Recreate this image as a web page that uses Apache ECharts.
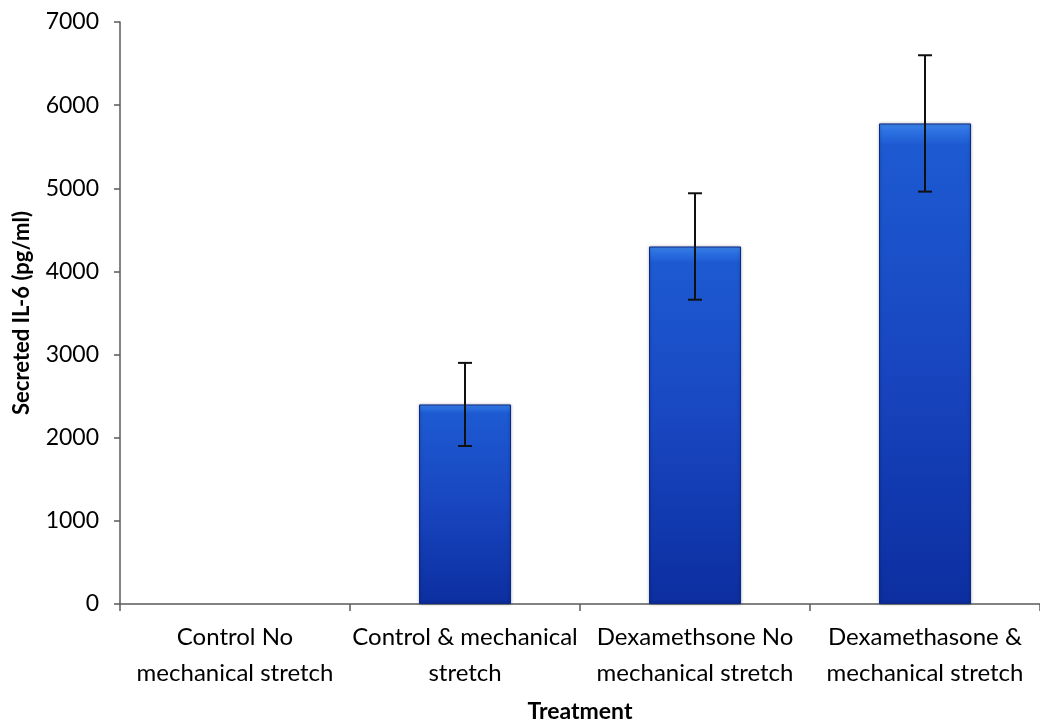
<!DOCTYPE html>
<html>
<head>
<meta charset="utf-8">
<script src="https://cdn.jsdelivr.net/npm/echarts@6/dist/echarts.min.js"></script>
<style>
  html, body { margin: 0; padding: 0; background: #ffffff; }
  #chart { width: 1040px; height: 722px; }
</style>
</head>
<body>
<div id="chart"></div>
<script>
// Treatment groups shown along the x axis
const categories = [
  'Control No\nmechanical stretch',
  'Control & mechanical\nstretch',
  'Dexamethsone No\nmechanical stretch',
  'Dexamethasone &\nmechanical stretch'
];
// Mean secreted IL-6 (pg/ml) per group
const meanValues = [0, 2400, 4300, 5780];
// Error (± half-range) for each group
const errorValues = [0, 500, 640, 820];
// Y axis ticks
const yMin = 0, yMax = 7000, yStep = 1000;

const FONT = 'Lato, "Open Sans", sans-serif';

const chart = echarts.init(document.getElementById('chart'), null, { renderer: 'canvas' });

const barFill = new echarts.graphic.LinearGradient(0, 0, 0, 1, [
  { offset: 0, color: '#3f86ea' },
  { offset: 0.015, color: '#2d72e2' },
  { offset: 0.045, color: '#1d5ad2' },
  { offset: 0.5, color: '#1846c0' },
  { offset: 1, color: '#0c2ea0' }
]);

// Zero-height groups get no outline so nothing is drawn for them
const barData = meanValues.map(v => ({
  value: v,
  itemStyle: { borderWidth: v === 0 ? 0 : 1, shadowBlur: v === 0 ? 0 : 3 }
}));

const errorData = meanValues.map((v, i) => [i, v - errorValues[i], v + errorValues[i], errorValues[i]]);

chart.setOption({
  animation: false,
  backgroundColor: '#ffffff',
  grid: { left: 120, right: 0, top: 22, bottom: 118, containLabel: false, outerBoundsMode: 'none' },
  xAxis: {
    type: 'category',
    data: categories,
    boundaryGap: true,
    name: 'Treatment',
    nameLocation: 'middle',
    nameGap: 96,
    nameTextStyle: { fontFamily: FONT, fontSize: 23, fontWeight: 'bold', color: '#000' },
    axisLine: { show: true, lineStyle: { color: '#5a5a5a', width: 1.5 } },
    axisTick: { show: true, length: 7, alignWithLabel: false, lineStyle: { color: '#5a5a5a', width: 1.5 } },
    axisLabel: {
      interval: 0, margin: 15, fontFamily: FONT, fontSize: 24, lineHeight: 36, color: '#000'
    },
    splitLine: { show: false }
  },
  yAxis: {
    type: 'value',
    min: yMin, max: yMax, interval: yStep,
    name: 'Secreted IL-6 (pg/ml)',
    nameLocation: 'middle',
    nameRotate: 90,
    nameGap: 87,
    nameTextStyle: { fontFamily: FONT, fontSize: 22, fontWeight: 'bold', color: '#000' },
    axisLine: { show: true, lineStyle: { color: '#5a5a5a', width: 1.5 } },
    axisTick: { show: true, length: 6, lineStyle: { color: '#5a5a5a', width: 1.5 } },
    axisLabel: {
      margin: 21, fontFamily: FONT, fontSize: 23, color: '#000',
      formatter: v => String(v)
    },
    splitLine: { show: false }
  },
  series: [
    {
      type: 'bar',
      data: barData,
      barWidth: '40%',
      itemStyle: {
        color: barFill,
        borderColor: '#0b2a8c',
        shadowColor: 'rgba(0,0,0,0.35)'
      },
      z: 2
    },
    {
      type: 'custom',
      data: errorData,
      z: 5,
      renderItem: function (params, api) {
        if (api.value(3) === 0) return null;
        const x = api.value(0);
        const lo = api.coord([x, api.value(1)]);
        const hi = api.coord([x, api.value(2)]);
        const cap = 7;
        const style = { stroke: '#111', lineWidth: 2 };
        return {
          type: 'group',
          children: [
            { type: 'line', shape: { x1: hi[0], y1: hi[1], x2: lo[0], y2: lo[1] }, style: style },
            { type: 'line', shape: { x1: hi[0] - cap, y1: hi[1], x2: hi[0] + cap, y2: hi[1] }, style: style },
            { type: 'line', shape: { x1: lo[0] - cap, y1: lo[1], x2: lo[0] + cap, y2: lo[1] }, style: style }
          ]
        };
      }
    }
  ]
});
</script>
</body>
</html>
